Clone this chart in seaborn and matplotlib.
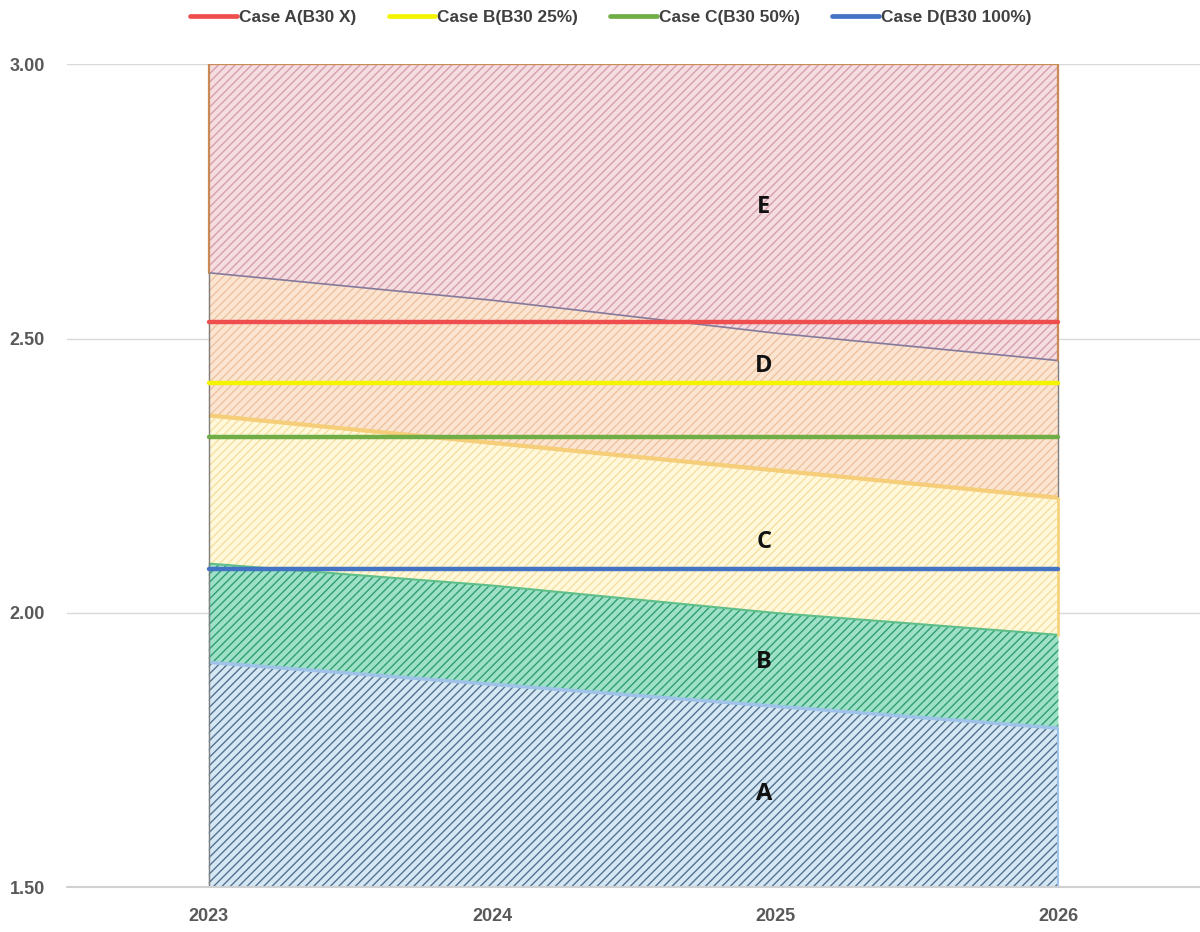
import matplotlib
matplotlib.use("Agg")
import matplotlib.pyplot as plt
import seaborn as sns
import pandas as pd
from matplotlib.lines import Line2D

# ---- data ----
years = [2023, 2024, 2025, 2026]
band_names = ["A", "B", "C", "D", "E"]
band_tops = {
    "A": [1.91, 1.87, 1.83, 1.79],
    "B": [2.09, 2.05, 2.00, 1.96],
    "C": [2.36, 2.31, 2.26, 2.21],
    "D": [2.62, 2.57, 2.51, 2.46],
    "E": [3.00, 3.00, 3.00, 3.00],
}
band_floor = 1.50
band_label_x = 2024.96
band_label_y = {"A": 1.67, "B": 1.91, "C": 2.13, "D": 2.45, "E": 2.74}

case_names = ["Case A(B30 X)", "Case B(B30 25%)", "Case C(B30 50%)", "Case D(B30 100%)"]
case_values = [2.53, 2.42, 2.32, 2.08]

y_ticks = [1.50, 2.00, 2.50, 3.00]

# ---- style ----
sns.set_theme(style="whitegrid")
plt.rcParams["font.family"] = ["Liberation Sans", "DejaVu Sans"]
plt.rcParams["hatch.linewidth"] = 1.0

band_face = {"A": "#d6e7f4", "B": "#9fe0c8", "C": "#fff8da", "D": "#fbe5d1", "E": "#f4dce0"}
band_hatch = {"A": "#53718e", "B": "#2f9f70", "C": "#f5e0a2", "D": "#eec2a0", "E": "#d6a0aa"}
band_hatch_pat = {"A": "////", "B": "////", "C": "////", "D": "////", "E": "////"}
band_edge = {"A": "#9fc3e8", "B": "#5fbf8a", "C": "#f6cd78", "D": "#857a9c", "E": None}
band_edge_lw = {"A": 2.5, "B": 1.5, "C": 3.0, "D": 1.2}

case_colors = ["#ef4e4e", "#f4f400", "#70ad47", "#4472c4"]

fig = plt.figure(figsize=(12, 9.32), dpi=100)
ax = fig.add_axes([0.056, 0.048, 0.944, 0.883])

# ---- stacked bands ----
bottom = [band_floor] * len(years)
for name in band_names:
    top = band_tops[name]
    ax.fill_between(years, bottom, top, facecolor=band_face[name],
                    edgecolor="none", linewidth=0, zorder=1)
    ax.fill_between(years, bottom, top, facecolor="none",
                    edgecolor=band_hatch[name], hatch=band_hatch_pat[name],
                    linewidth=0, zorder=1.1)
    if band_edge[name] is not None:
        ax.plot(years, top, color=band_edge[name], lw=band_edge_lw[name],
                zorder=1.5, solid_capstyle="butt")
    bottom = top

# outlines of the side edges
e_bottom = band_tops["D"]
ax.plot([years[0], years[0], years[-1], years[-1]],
        [e_bottom[0], 3.0, 3.0, e_bottom[-1]],
        color="#c98a55", lw=1.6, zorder=1.6)
ax.plot([years[0], years[0]], [band_floor, e_bottom[0]], color="#7f7f7f", lw=1.0, zorder=1.6)
ax.plot([years[-1], years[-1]], [band_tops["C"][-1], e_bottom[-1]], color="#7f7f7f", lw=1.0, zorder=1.6)
ax.plot([years[-1], years[-1]], [band_tops["B"][-1], band_tops["C"][-1]], color="#f7d37c", lw=2.0, zorder=1.6)
ax.plot([years[-1], years[-1]], [band_floor, band_tops["A"][-1]], color="#9fc3e8", lw=1.5, zorder=1.6)

# baseline gridline stays visible over the fills
ax.axhline(band_floor, color="#d0d0d0", lw=1.5, zorder=2, clip_on=False)

# ---- reference lines for each case ----
ref = pd.DataFrame({
    "year": [y for _ in case_names for y in (years[0], years[-1])],
    "value": [v for v in case_values for _ in (0, 1)],
    "case": [c for c in case_names for _ in (0, 1)],
})
sns.lineplot(data=ref, x="year", y="value", hue="case", hue_order=case_names,
             palette=case_colors, linewidth=3.2, ax=ax, legend=False, zorder=3)

# ---- band labels ----
for name in band_names:
    ax.text(band_label_x, band_label_y[name], name, ha="center", va="center",
            fontsize=17, fontweight="bold", color="#111111",
            family=["Open Sans", "DejaVu Sans"], zorder=4)

# ---- axes ----
ax.set_xlim(2022.5, 2026.5)
ax.set_ylim(1.5, 3.0)
ax.set_xticks(years)
ax.set_xticklabels([str(y) for y in years])
ax.set_yticks(y_ticks)
ax.set_yticklabels([f"{v:.2f}" for v in y_ticks])
ax.set_xlabel("")
ax.set_ylabel("")
ax.grid(axis="x", visible=False)
ax.grid(axis="y", color="#d9d9d9", linewidth=1.0)
ax.set_axisbelow(True)
for s in ax.spines.values():
    s.set_visible(False)
ax.tick_params(axis="both", length=0, labelsize=13, labelcolor="#595959")
ax.tick_params(axis="y", pad=16)
ax.tick_params(axis="x", pad=15)
for lab in ax.get_xticklabels() + ax.get_yticklabels():
    lab.set_fontweight("bold")
ax.set_facecolor("white")

# ---- legend ----
handles = [Line2D([0], [0], color=c, lw=3.4) for c in case_colors]
leg = fig.legend(handles, case_names, loc="center", bbox_to_anchor=(0.509, 0.981),
                 ncol=4, frameon=False, handlelength=2.7,
                 handletextpad=0.1, columnspacing=1.9,
                 prop={"weight": "bold", "size": 12.4})
for t in leg.get_texts():
    t.set_color("#404040")

fig.savefig("out.png", dpi=100, facecolor="white")
